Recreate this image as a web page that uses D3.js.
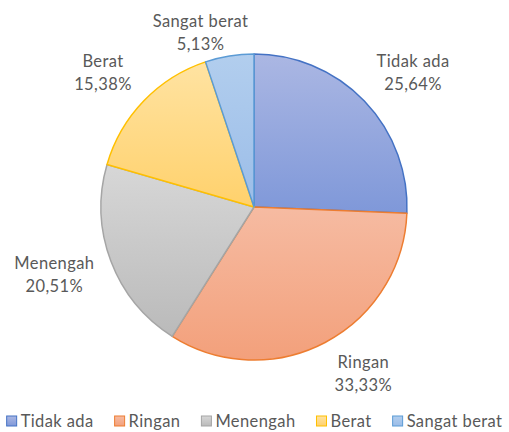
<!DOCTYPE html>
<html>
<head>
<meta charset="utf-8">
<script src="https://cdn.jsdelivr.net/npm/d3@7"></script>
<style>
  html, body { margin: 0; padding: 0; background: #fff; }
  svg { display: block; }
  text { font-family: Lato, "Open Sans", sans-serif; fill: #595959; letter-spacing: 0.4px; }
</style>
</head>
<body>
<svg id="chart" width="509" height="432"></svg>
<script>
// ---- data ----
const categories = ["Tidak ada", "Ringan", "Menengah", "Berat", "Sangat berat"];
const values = [10, 13, 8, 6, 2];
const percentLabels = ["25,64%", "33,33%", "20,51%", "15,38%", "5,13%"];

// ---- styles ----
const fillTop = ["#abb7e3", "#f6bba2", "#d7d7d7", "#ffe3a2", "#b2ceee"];
const fillBottom = ["#7f98d9", "#f3a07b", "#bababa", "#ffd16c", "#9bbde8"];
const strokes = ["#4472c4", "#ed7d31", "#a5a5a5", "#ffc000", "#5b9bd5"];
const labelNudge = [[22, -3], [21, -2], [-22, 0], [-14, -3], [-23, 13]];

const W = 509, H = 432;
const cx = 254, cy = 207, R = 153;
const FS = 16.5;
const svg = d3.select("#chart");

const defs = svg.append("defs");
categories.forEach((c, i) => {
  const g = defs.append("linearGradient")
    .attr("id", "grad" + i)
    .attr("x1", 0).attr("y1", 0).attr("x2", 0).attr("y2", 1);
  g.append("stop").attr("offset", "0%").attr("stop-color", fillTop[i]);
  g.append("stop").attr("offset", "100%").attr("stop-color", fillBottom[i]);
});

const pie = d3.pie().sort(null).value(d => d)(values);
const arc = d3.arc().innerRadius(0).outerRadius(R);
const labelArc = d3.arc().innerRadius(190).outerRadius(190);

const g = svg.append("g").attr("transform", `translate(${cx},${cy})`);
g.selectAll("path.slice")
  .data(pie)
  .join("path")
  .attr("class", "slice")
  .attr("d", arc)
  .attr("fill", (d, i) => `url(#grad${i})`)
  .attr("stroke", (d, i) => strokes[i])
  .attr("stroke-width", 1.5)
  .attr("stroke-linejoin", "round");

const labels = g.selectAll("g.lab")
  .data(pie)
  .join("g")
  .attr("class", "lab")
  .attr("transform", (d, i) => {
    const [x, y] = labelArc.centroid(d);
    return `translate(${x + labelNudge[i][0]},${y + labelNudge[i][1]})`;
  });
labels.append("text")
  .attr("text-anchor", "middle")
  .attr("dominant-baseline", "central")
  .attr("y", -11)
  .attr("font-size", FS)
  .text((d, i) => categories[i]);
labels.append("text")
  .attr("text-anchor", "middle")
  .attr("dominant-baseline", "central")
  .attr("y", 12)
  .attr("font-size", FS)
  .text((d, i) => percentLabels[i]);

// ---- legend ----
const legend = svg.append("g");
const sq = 10, gap = 4, spacing = 21, ly = 421;
const items = legend.selectAll("g.item")
  .data(categories)
  .join("g")
  .attr("class", "item");
items.append("rect")
  .attr("width", sq).attr("height", sq)
  .attr("y", ly - sq / 2)
  .attr("fill", (d, i) => `url(#grad${i})`)
  .attr("stroke", (d, i) => strokes[i])
  .attr("stroke-width", 1);
items.append("text")
  .attr("x", sq + gap)
  .attr("y", ly)
  .attr("dominant-baseline", "central")
  .attr("font-size", FS)
  .text(d => d);
let widths = [];
items.each(function() {
  widths.push(sq + gap + d3.select(this).select("text").node().getComputedTextLength());
});
const total = d3.sum(widths) + spacing * (widths.length - 1);
let x0 = (W - total) / 2;
items.attr("transform", (d, i) => {
  const t = `translate(${x0},0)`;
  x0 += widths[i] + spacing;
  return t;
});
</script>
</body>
</html>
